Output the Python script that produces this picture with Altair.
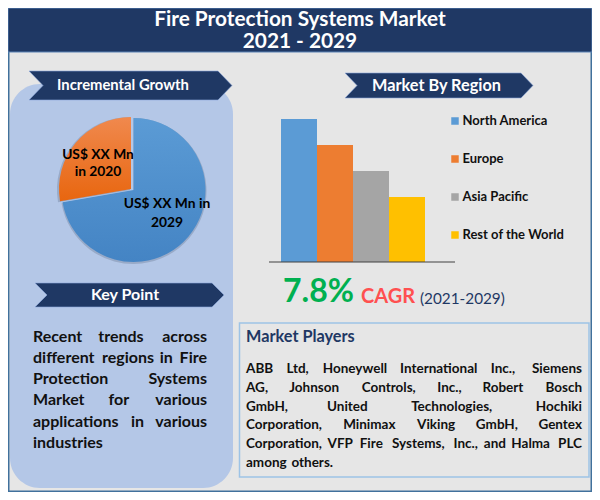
"""Fire protection systems market infographic rebuilt as one layered altair chart."""

import altair as alt
import pandas as pd

FONT = "Lato"
NAVY = "#1f3864"
MARGIN = 8  # page margin, everything below is measured on the 600x500 page

title_lines = ["Fire Protection Systems Market", "2021 - 2029"]
pie_names = ["2029", "2020"]
pie_values = [72.3, 27.7]
pie_labels_2020 = ["US$ XX Mn", "in 2020"]
pie_labels_2029 = ["US$ XX Mn in", "2029"]
regions = ["North America", "Europe", "Asia Pacific", "Rest of the World"]
region_values = [55, 45, 35, 25]
region_colors = ["#5b9bd5", "#ed7d31", "#a5a5a5", "#ffc000"]
key_point_lines = [
    "Recent trends across",
    "different regions in Fire",
    "Protection Systems",
    "Market for various",
    "applications in various",
    "industries",
]
player_lines = [
    "ABB Ltd, Honeywell International Inc., Siemens",
    "AG, Johnson Controls, Inc., Robert Bosch",
    "GmbH, United Technologies, Hochiki",
    "Corporation, Minimax Viking GmbH, Gentex",
    "Corporation, VFP Fire Systems, Inc., and Halma PLC",
    "among others.",
]

one_row = pd.DataFrame({"n": [0]})


def pos(v):
    return alt.value(v - MARGIN)


def box(x0, x1, y0, y1, fill, **kw):
    return alt.Chart(one_row).mark_rect(fill=fill, **kw).encode(
        x=pos(x0), x2=pos(x1), y=pos(y0), y2=pos(y1))


def label(text, x, y, size, color="black", weight="bold", align="center", **kw):
    return alt.Chart(one_row).mark_text(
        text=text, font=FONT, fontSize=size, fontWeight=weight, color=color,
        align=align, baseline="middle", **kw
    ).encode(x=pos(x), y=pos(y))


def ribbon(text, x0, x1, y0, y1, notch, text_x, size):
    """Navy banner with a notched left end and a pointed right end."""
    w = (x1 - x0) / 2
    h = (y1 - y0) / 2
    path = (f"M{-w},{-h} L{w - notch},{-h} L{w},0 L{w - notch},{h} "
            f"L{-w},{h} L{-w + notch},0 Z")
    # vega scales a custom shape by sqrt(size)/2, so size 4 keeps it in pixels
    shape = alt.Chart(one_row).mark_point(
        shape=path, size=4, filled=True, fill=NAVY, stroke="#8faadc",
        strokeWidth=0.6, opacity=1
    ).encode(x=pos((x0 + x1) / 2), y=pos((y0 + y1) / 2))
    return shape + label(text, text_x, (y0 + y1) / 2, size, "white")


def word_em(word):
    """Rough width of a word in em for bold Lato."""
    total = 0
    for c in word:
        if c in "iljI.,'":
            total += 0.27
        elif c in "trf":
            total += 0.37
        elif c in "mwMW":
            total += 0.85
        elif c.isupper():
            total += 0.66
        else:
            total += 0.55
    return total


def justified(lines, left, right, top, leading, size):
    """One text row per word, spread over the width like justified text."""
    rows = []
    for i, line in enumerate(lines):
        words = line.split()
        y = top + i * leading - MARGIN
        last_line = i == len(lines) - 1
        if last_line:
            gap = 0.25 * size
        else:
            widths = sum(word_em(w) * size for w in words)
            gap = (right - left - widths) / (len(words) - 1)
        x = left
        for j, w in enumerate(words):
            width = word_em(w) * size
            if j == 0:
                rows.append({"word": w, "px": left - MARGIN, "py": y, "side": "left"})
            elif j == len(words) - 1 and not last_line:
                rows.append({"word": w, "px": right - MARGIN, "py": y, "side": "right"})
            else:
                rows.append({"word": w, "px": x + width / 2 - MARGIN, "py": y,
                             "side": "center"})
            x += width + gap
    df = pd.DataFrame(rows)
    parts = [
        alt.Chart(df[df["side"] == side]).mark_text(
            font=FONT, fontSize=size, fontWeight="bold", color="#111111",
            baseline="middle", align=side
        ).encode(
            x=alt.X("px:Q", scale=None, axis=None),
            y=alt.Y("py:Q", scale=None, axis=None),
            text="word:N",
        )
        for side in ["left", "center", "right"]
    ]
    return alt.layer(*parts)


def gradient(top, bottom):
    return alt.LinearGradient(
        gradient="linear", x1=0, x2=0, y1=0, y2=1,
        stops=[alt.GradientStop(color=top, offset=0),
               alt.GradientStop(color=bottom, offset=1)])


# pie, the 2020 slice is pulled out a little
pie_df = pd.DataFrame({"name": pie_names, "value": pie_values})
pie_df["end"] = pie_df["value"].cumsum()
pie_df["start"] = pie_df["end"] - pie_df["value"]
theta = alt.Theta("start:Q", scale=alt.Scale(domain=[0, 100]))


def slice_layer(name, cx, cy, fill, radius=72, **kw):
    return alt.Chart(pie_df[pie_df["name"] == name]).mark_arc(
        radius=radius, fill=fill, **kw
    ).encode(theta=theta, theta2="end:Q", x=pos(cx), y=pos(cy))


pie = (
    slice_layer("2029", 133.5, 191, "#44546a", radius=73, opacity=0.25)
    + slice_layer("2020", 130, 190, "#44546a", radius=73, opacity=0.25)
    + slice_layer("2029", 133.5, 190, gradient("#5b9bd5", "#4484c4"))
    + slice_layer("2020", 131, 189, gradient("#f0894e", "#e8660f"))
)

# bars and their legend
bar_df = pd.DataFrame({"region": regions, "value": region_values})
bars = alt.Chart(bar_df).mark_bar().encode(
    x=alt.X("region:N", sort=regions, axis=None,
            scale=alt.Scale(domain=regions, range=[281 - MARGIN, 425 - MARGIN],
                            paddingInner=0, paddingOuter=0)),
    y=alt.Y("value:Q", axis=None,
            scale=alt.Scale(domain=[0, 55], range=[262 - MARGIN, 119 - MARGIN])),
    color=alt.Color(
        "region:N",
        scale=alt.Scale(domain=regions, range=region_colors),
        legend=alt.Legend(
            title=None, orient="none", legendX=448.5 - MARGIN, legendY=113 - MARGIN,
            symbolType="square", symbolSize=56, symbolStrokeWidth=0,
            labelFont=FONT, labelFontSize=13, labelFontWeight="bold",
            labelColor="#111111", labelOffset=1, clipHeight=16, rowPadding=22,
            padding=0),
    ),
)
bar_base = alt.Chart(one_row).mark_rule(color="#404040", strokeWidth=1).encode(
    x=pos(269), x2=pos(455), y=pos(262))

layers = [
    # page, frame, header, panels (the chart area ends at 592 x 492 on the page)
    box(8, 592, 8, 492, "#41719c"),
    box(9.5, 590.5, 9.5, 490.5, "#e6e6e6"),
    box(8, 592, 8, 52, NAVY, stroke="#5b82b5", strokeWidth=1),
    box(10, 233, 84, 488, "#b4c7e7", cornerRadius=30),
    box(239.5, 589, 323, 477, "#e6e6e6", stroke="#9dc3e6", strokeWidth=1.5),
    label(title_lines, 300, 19.5, 20.8, "white", lineHeight=22),
    ribbon("Incremental Growth", 29, 232, 71, 100, 14, 123, 14.8),
    ribbon("Market By Region", 345, 533, 73, 98, 12, 436.5, 16.3),
    ribbon("Key Point", 35, 224, 283, 307, 12, 125, 16),
    pie,
    label(pie_labels_2020[0], 98, 155, 13.8),
    label(pie_labels_2020[1], 98, 172, 13.8),
    label(pie_labels_2029[0], 167, 204, 13.8),
    label(pie_labels_2029[1], 167, 223, 13.8),
    bars,
    bar_base,
    label("7.8%", 283, 292, 32, "#00b050", align="left"),
    label("CAGR", 361, 296.5, 20, "#ff5050", align="left"),
    label("(2021-2029)", 420, 299, 15.3, NAVY, weight="normal", align="left"),
    justified(key_point_lines, 33, 207, 336.5, 21.3, 16),
    label("Market Players", 246, 337, 16.3, NAVY, align="left"),
    justified(player_lines, 246, 582, 369, 18.8, 13.5),
]

chart = alt.layer(*layers).properties(
    width=584,
    height=484,
    padding=0,
    background="white",
    autosize=alt.AutoSizeParams(type="none"),
).configure_view(strokeWidth=0)

chart.save("out.html", embed_options={"renderer": "svg", "actions": False})
